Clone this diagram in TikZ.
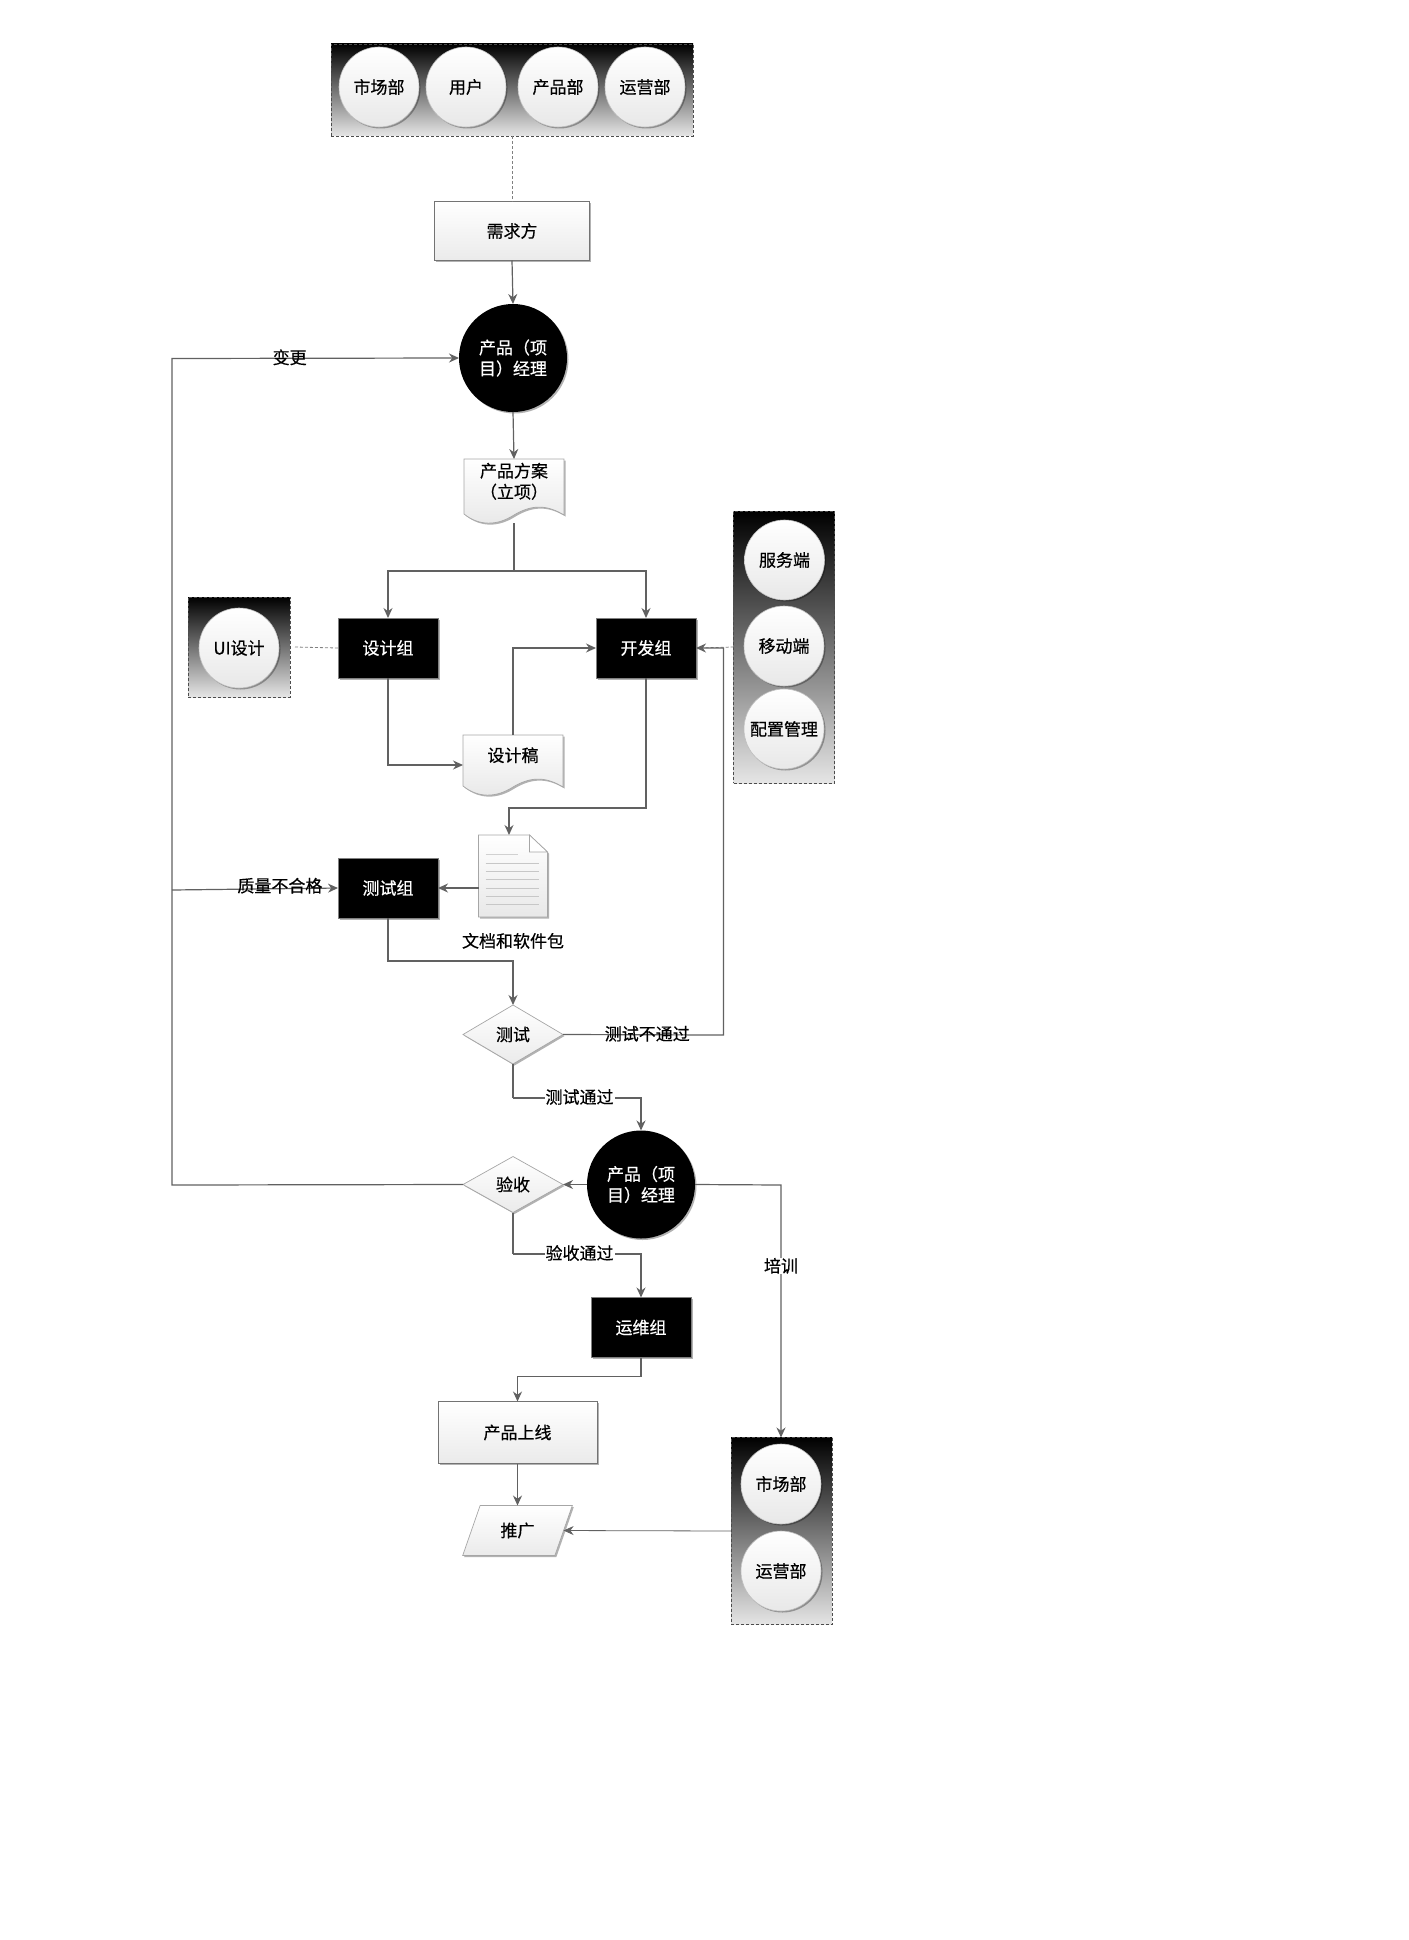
\documentclass[tikz,border=0pt]{standalone}
\usepackage{fontspec}
\setmainfont[FakeBold=0.5]{Noto Sans CJK SC}
\usepackage{xcolor}
\usepackage{tikz}
\usetikzlibrary{shapes.geometric,arrows.meta,positioning,shadows,backgrounds}

% wavy sheet behind a node
\newcommand{\sheetwave}[1]{
  \begin{scope}[on background layer]
    \draw[sheetline] (#1.north west) -- (#1.north east) -- ([yshift=8pt]#1.south east)
      .. controls ([shift={(-15pt,17pt)}]#1.south east) and ([shift={(-30pt,20pt)}]#1.south east) .. ([yshift=8pt]#1.south)
      .. controls ([shift={(-17pt,-3pt)}]#1.south) and ([shift={(-35pt,-3pt)}]#1.south) .. ([yshift=9pt]#1.south west)
      -- cycle;
  \end{scope}
}

\begin{document}
\begin{tikzpicture}[x=1pt, y=-1pt,
    softshade/.style={drop shadow={shadow xshift=1.5pt, shadow yshift=-1.5pt, opacity=.3, fill=black}},
    base/.style={inner sep=0pt, outer sep=0pt, align=center, text=black, font=\fontsize{17}{21}\selectfont},
    lightbox/.style={base, rectangle, draw=black!55, line width=.8pt, top color=white, bottom color=black!8,
                     minimum width=#1, softshade},
    darkbox/.style={base, rectangle, draw=black!50, line width=.6pt, fill=black, text=white,
                    minimum width=100pt, minimum height=60pt, softshade},
    darkround/.style={base, circle, fill=black, text=white, minimum size=108pt, softshade},
    lightround/.style={base, circle, draw=black!25, line width=.6pt, top color=white, bottom color=black!9,
                       minimum size=80pt, softshade},
    groupbox/.style={base, rectangle, draw=black!70, densely dashed, line width=.6pt,
                     top color=black, bottom color=black!10},
    choice/.style={base, diamond, draw=black!35, line width=.7pt, top color=white, bottom color=black!8,
                   minimum width=100pt, softshade},
    sheetbox/.style={base, rectangle, minimum width=100pt, minimum height=#1},
    sheetline/.style={draw=black!35, line width=.7pt, top color=white, bottom color=black!9, softshade},
    arr/.style={-{Stealth[length=10pt, width=9pt]}, line width=1.2pt, black!62},
    plain/.style={line width=1.2pt, black!62},
    dashline/.style={densely dashed, line width=.8pt, black!50},
    tag/.style={base, fill=white, inner xsep=1pt},
    baretag/.style={base}
]
\useasboundingbox (0,0) rectangle (1408,1940);

% demand side
\node[groupbox, minimum width=362pt, minimum height=92pt] (askers) at (512,90) {};
\node[lightround] (market) at (379,87) {市场部};
\node[lightround, right=7pt of market] (users) {用户};
\node[lightround, right=12pt of users] (product) {产品部};
\node[lightround, right=7pt of product] (operate) {运营部};
\node[lightbox=155pt, minimum height=59pt] (need) at (512,231) {需求方};
\node[darkround, below=43.5pt of need, xshift=1pt] (pmtop) {产品（项\\目）经理};
\node[sheetbox=64pt, below=47pt of pmtop, xshift=1pt] (plan) {产品方案\\（立项）\\\mbox{}};
\sheetwave{plan}

% design and development
\node[darkbox, below left=95pt and 26pt of plan] (design) {设计组};
\node[darkbox, below right=95pt and 32pt of plan] (dev) {开发组};
\node[groupbox, minimum width=102pt, minimum height=100pt] (uibox) at (239,647) {};
\node[lightround] (ui) at (239,648) {UI设计};
\node[groupbox, minimum width=101pt, minimum height=272pt] (devbox) at (784,647) {};
\node[lightround] (server) at (784.5,560) {服务端};
\node[lightround] (mobile) at (784,646) {移动端};
\node[lightround, below=3pt of mobile] (config) {配置管理};
\node[sheetbox=60pt, below=212pt of plan, xshift=-1pt] (draft) {设计稿\\\mbox{}};
\sheetwave{draft}

% test
\node[base, rectangle, minimum width=69pt, minimum height=82pt, below=40pt of draft] (docs) {};
\begin{scope}[on background layer]
  \draw[sheetline] (docs.north west) -- ([xshift=-18pt]docs.north east) -- ([yshift=-17pt]docs.north east)
     -- (docs.south east) -- (docs.south west) -- cycle;
  \draw[draw=black!35, line width=.7pt, fill=white] ([xshift=-18pt]docs.north east) -- ([shift={(-18pt,-17pt)}]docs.north east)
     -- ([yshift=-17pt]docs.north east) -- cycle;
\end{scope}
\draw[black!18, line width=.8pt] ([shift={(7pt,-19pt)}]docs.north west) -- ([shift={(39pt,-19pt)}]docs.north west);
\foreach \dy in {28,36,44,53,61,69}
  \draw[black!22, line width=.8pt] ([shift={(7pt,-\dy pt)}]docs.north west) -- ([shift={(60pt,-\dy pt)}]docs.north west);
\node[baretag, below=16pt of docs] (docsname) {文档和软件包};
\node[darkbox, below=180pt of design] (tester) {测试组};
\node[choice, minimum height=59pt, below=88pt of docs] (testing) {测试};

% acceptance and release
\node[darkround] (pmlow) at (641,1184.5) {产品（项\\目）经理};
\node[choice, minimum height=56pt, left=24pt of pmlow] (accept) {验收};
\node[darkbox, below=59pt of pmlow] (ops) {运维组};
\node[lightbox=159pt, minimum height=62pt] (launch) at (517.5,1432.5) {产品上线};
\node[base, trapezium, trapezium left angle=63.4, trapezium right angle=116.6, trapezium stretches=true,
      draw=black!35, line width=.7pt, top color=white, bottom color=black!8, softshade,
      minimum width=110pt, minimum height=50pt, below=42pt of launch] (promo) {推广};
\node[groupbox, minimum width=101pt, minimum height=187pt] (salesbox) at (781.5,1531) {};
\node[lightround] (market2) at (781,1484) {市场部};
\node[lightround, below=7pt of market2] (operate2) {运营部};

\coordinate (split) at ([yshift=-48pt]plan.south);
\coordinate (backleft) at (172,1185);
\coordinate (backtop) at (172,358.5);
\coordinate (devdrop) at (509,808);
\coordinate (testjoin) at (513,961);
\coordinate (failturn) at (723.5,1035);
\coordinate (passturn) at (513,1098);
\coordinate (okturn) at (513,1254);
\coordinate (opsdrop) at (517.5,1376.5);
\coordinate (qualfrom) at (172,890);
\coordinate (trainturn) at (781,1185);

\draw[dashline] (askers.south) -- (need.north);
\draw[arr] (need.south) -- (pmtop.north);
\draw[arr] (pmtop.south) -- (plan.north);
\draw[plain] (plan.south) -- (split);
\draw[arr] (split) -| (design.north);
\draw[arr] (split) -| (dev.north);
\draw[dashline] ([xshift=5pt]uibox.east) -- (design.west);
\draw[arr] (design.south) |- (draft.west);
\draw[arr] (draft.north) |- (dev.west);
\draw[dashline] (devbox.west) -- (dev.east);
\draw[arr] (dev.south) |- (devdrop) -- (docs.north -| devdrop);
\draw[arr] (docs.west |- tester.east) -- (tester.east);
\draw[arr] (tester.south) |- (testjoin) -- (testing.north);
\draw[arr] (testing.east) -- node[baretag, pos=.525, yshift=1pt] {测试不通过} (failturn) |- (dev.east);
\draw[plain] (testing.south) -- (passturn);
\draw[arr] (passturn) -| node[tag, pos=.26, yshift=1pt] {测试通过} (pmlow.north);
\draw[arr] (pmlow.west) -- (accept.east);
\draw[arr] (accept.west) -- (backleft) -- (backtop) -- node[baretag, pos=.41, yshift=1pt] {变更} (pmtop.west);
\draw[arr] (qualfrom) -- node[baretag, pos=.65, yshift=3pt] {质量不合格} (tester.west);
\draw[plain] (accept.south) -- (okturn);
\draw[arr] (okturn) -| node[tag, pos=.26, yshift=1pt] {验收通过} (ops.north);
\draw[arr] (ops.south) |- (opsdrop) -- (launch.north);
\draw[arr] (launch.south) -- (promo.north);
\draw[arr] (pmlow.east) -- (trainturn) -- node[tag, pos=.32] {培训} (salesbox.north -| trainturn);
\draw[arr, line width=.8pt] (salesbox.west) -- (promo.east);
\end{tikzpicture}
\end{document}
